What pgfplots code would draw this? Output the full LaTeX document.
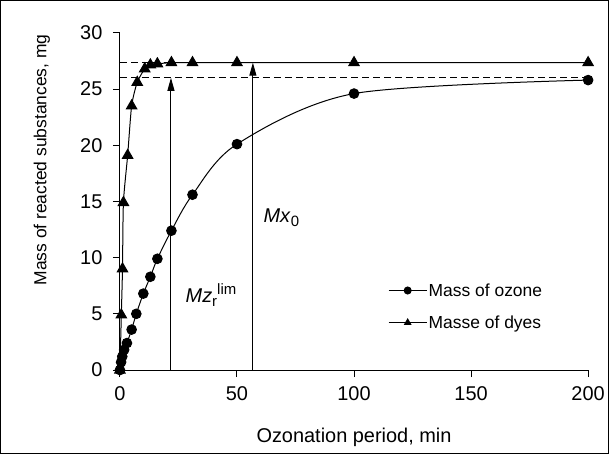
\documentclass[border=0pt]{standalone}
\usepackage{fontspec}
\setmainfont{Liberation Sans}
\usepackage{pgfplots}
\usepackage{pgfplotstable}
\pgfplotsset{compat=1.18}
\usetikzlibrary{arrows.meta}

\newcommand{\bigfont}{\fontsize{17.5}{21}\selectfont}
\newcommand{\tickfont}{\fontsize{20}{24}\selectfont}
\newcommand{\smallfont}{\fontsize{15}{18}\selectfont}

% ozone consumed, mg
\pgfplotstableread{
t   m
0   0
0.5 0.7
1   1.2
1.8 1.8
3   2.4
5   3.6
7   5.0
10  6.8
13  8.3
16  9.9
22  12.4
31  15.6
50  20.1
100 24.6
200 25.8
}\ozone

% dyes reacted, mg
\pgfplotstableread{
t   m
0   0
0.6 4.9
1.1 9.0
1.5 14.9
3.3 19.1
5   23.5
7.4 25.6
10.6 26.8
13  27.15
16  27.25
22  27.35
31  27.35
50  27.35
100 27.35
200 27.35
}\dyes

\begin{document}
\begin{tikzpicture}
\begin{axis}[
    scale only axis,
    width=468bp, height=337bp,
    xmin=0, xmax=200,
    ymin=0, ymax=30,
    xtick={0,50,...,200},
    ytick={0,5,...,30},
    axis x line*=bottom,
    axis y line*=left,
    axis line style={-, line width=1bp},
    tick align=outside,
    major tick length=7bp,
    tick style={black, line width=1bp},
    ticklabel style={font=\tickfont},
    /pgf/number format/assume math mode=true,
    yticklabel style={xshift=-7bp},
    xticklabel style={yshift=-6bp},
    clip=false,
    legend style={at={(axis cs:114.5,7.9)}, anchor=north west,
        draw=none, fill=none, inner sep=0pt, row sep=14bp,
        font=\bigfont, nodes={inner xsep=1.5bp}},
    legend cell align=left,
    legend image code/.code={
        \draw[mark repeat=2, mark phase=2, #1, mark size=3.5bp]
        plot coordinates {(0bp,0bp) (19bp,0bp) (38bp,0bp)};
    },
]

% frame round the whole chart
\draw[line width=0.75bp] (rel axis cs:0,0) ++(-119.5bp,-83.5bp) rectangle ++(608bp,453bp);

% reference levels
\draw[line width=1bp, dash pattern=on 7bp off 4bp] (axis cs:0,27.35) -- (axis cs:200,27.35);
\draw[line width=1bp, dash pattern=on 7bp off 4bp] (axis cs:0,26.0) -- (axis cs:200,26.0);

% arrows
\draw[line width=1bp, -{Triangle[length=13bp,width=7bp]}] (axis cs:21.8,0) -- (axis cs:21.8,26.0);
\draw[line width=1bp, -{Triangle[length=13bp,width=7bp]}] (axis cs:56.8,0) -- (axis cs:56.8,27.35);

\addplot[black, line width=1bp, smooth, mark=*, mark size=4.8bp] table[x=t, y=m] {\ozone};
\addlegendentry{Mass of ozone}
\addplot[black, line width=1bp, smooth, tension=0.4, mark=triangle*, mark size=6bp] table[x=t, y=m] {\dyes};
\addlegendentry{Masse of dyes}

% labels
\node[anchor=base west, inner sep=0pt, font=\tickfont] at (axis cs:28,5.97)
    {\textit{Mz}\raisebox{-4bp}{\smallfont r}\raisebox{8bp}{\smallfont lim}};
\node[anchor=base west, inner sep=0pt, font=\tickfont] at (axis cs:61.3,13.1)
    {\textit{Mx}\raisebox{-4bp}{\smallfont 0}};

\node[rotate=90, font=\bigfont] at (axis cs:-33.3,18.7) {Mass of reacted substances, mg};
\node[font=\tickfont] at (axis cs:100,-5.97) {Ozonation period, min};

\end{axis}
\end{tikzpicture}
\end{document}
